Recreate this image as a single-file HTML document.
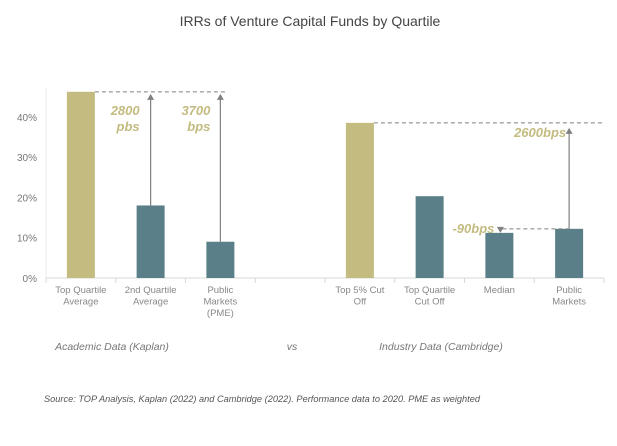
<!DOCTYPE html>
<html><head><meta charset="utf-8"><style>
body{margin:0;background:#fff;width:617px;height:441px;overflow:hidden;font-family:"Liberation Sans",sans-serif}
</style></head><body>
<svg id="chart" width="617" height="441" xmlns="http://www.w3.org/2000/svg">
<text x="310" y="26" text-anchor="middle" font-size="14" fill="#444">IRRs of Venture Capital Funds by Quartile</text>
<g id="plot"></g>
<text x="112" y="350" text-anchor="middle" font-size="10.5" font-style="italic" fill="#777">Academic Data (Kaplan)</text>
<text x="292" y="350" text-anchor="middle" font-size="10.5" font-style="italic" fill="#777">vs</text>
<text x="441" y="350" text-anchor="middle" font-size="10.5" font-style="italic" fill="#777">Industry Data (Cambridge)</text>
<text x="44" y="402" font-size="9.2" font-style="italic" fill="#555" textLength="436">Source: TOP Analysis, Kaplan (2022) and Cambridge (2022). Performance data to 2020. PME as weighted</text>
</svg>
<script>
const categories=[["Top Quartile","Average"],["2nd Quartile","Average"],["Public","Markets","(PME)"],null,["Top 5% Cut","Off"],["Top Quartile","Cut Off"],["Median"],["Public","Markets"]];
const values=[46.2,18,9,null,38.5,20.3,11.2,12.2];
const barColors=["#c3bb7f","#5b7f88","#5b7f88",null,"#c3bb7f","#5b7f88","#5b7f88","#5b7f88"];
const yTicks=[0,10,20,30,40];
const annotations=["2800","pbs","3700","bps","2600bps","-90bps"];
const NS="http://www.w3.org/2000/svg";
const g=document.getElementById('plot');
const x0=46,x1=604,y0=278,pxPer=4.03;
const slot=(x1-x0)/categories.length;
const xc=i=>x0+slot*(i+0.5);
const y=v=>y0-v*pxPer;
function el(t,a,txt){const e=document.createElementNS(NS,t);for(const k in a)e.setAttribute(k,a[k]);if(txt!=null)e.textContent=txt;g.appendChild(e);return e;}
let e=el('line',{x1:x0,y1:y0,x2:x1,y2:y0,stroke:'#d9d9d9'});


e=el('line',{x1:x0,y1:88,x2:x0,y2:y0,stroke:'#eee'});


for(let i=0;i<=categories.length;i++){e=el('line',{x1:x0+slot*i,y1:y0,x2:x0+slot*i,y2:y0+5,stroke:'#d9d9d9'});

}
yTicks.forEach(t=>{e=el('text',{x:37,y:y(t)+4,'text-anchor':'end','font-size':10,fill:'#777'},t+'%');

});
categories.forEach((c,i)=>{if(!c)return;
const v=values[i];
e=el('rect',{x:xc(i)-14,y:y(v),width:28,height:y0-y(v),fill:barColors[i]});


c.forEach((l,j)=>{e=el('text',{x:xc(i),y:y0+15+j*11.5,'text-anchor':'middle','font-size':9.5,fill:'#888'},l);

});});
const arrowCol='#808080';
function dash(xa,ya,xb){e=el('line',{x1:xa,y1:ya,x2:xb,y2:ya,stroke:arrowCol,'stroke-dasharray':'4,3'});

}
function arrow(x,yFrom,yTo){e=el('line',{x1:x,y1:yFrom,x2:x,y2:yTo+(yTo<yFrom?5:-5),stroke:arrowCol,'stroke-width':1.2});


const d=yTo<yFrom?6:-6;
e=el('polygon',{points:`${x-3.5},${yTo+d} ${x+3.5},${yTo+d} ${x},${yTo}`,fill:arrowCol});

}
function lab(x,yy,t,anchor){e=el('text',{x:x,y:yy,'text-anchor':anchor||'end','font-size':13,'font-style':'italic','font-weight':'bold',fill:'#c3bb7f'},t);

}
dash(xc(0)+14,y(values[0]),xc(2)+6);
arrow(xc(1),y(values[1]),y(values[0])+2);
arrow(xc(2),y(values[2]),y(values[0])+2);
lab(xc(1)-11,y(40)-2,annotations[0]);lab(xc(1)-11,y(40)+14,annotations[1]);
lab(xc(2)-10,y(40)-2,annotations[2]);lab(xc(2)-10,y(40)+14,annotations[3]);
dash(xc(4)+14,y(values[4]),x1);
arrow(xc(7),y(values[7]),y(values[4])+5);
lab(xc(7)-3,y(values[4])+14,annotations[4]);
dash(xc(6)+3,y(values[7]),xc(7));
arrow(xc(6)+1,y(values[7])+1,y(values[6]));
lab(xc(6)-5,y(values[7])+4,annotations[5]);
</script>
</body></html>
